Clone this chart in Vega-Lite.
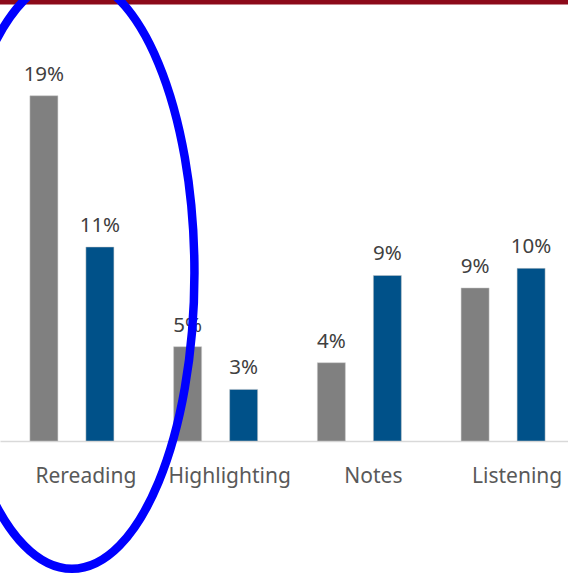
{
  "$schema": "https://vega.github.io/schema/vega-lite/v6.json",
  "width": 575,
  "height": 441,
  "autosize": {"type": "none"},
  "padding": {"left": 0, "top": 0, "right": 0, "bottom": 135},
  "background": "white",
  "config": {"view": {"stroke": null}, "font": "Noto Sans"},
  "data": {
    "values": [
      {"method": "Rereading", "series": "Series 1", "value": 0.194},
      {"method": "Rereading", "series": "Series 2", "value": 0.109},
      {"method": "Highlighting", "series": "Series 1", "value": 0.053},
      {"method": "Highlighting", "series": "Series 2", "value": 0.029},
      {"method": "Notes", "series": "Series 1", "value": 0.044},
      {"method": "Notes", "series": "Series 2", "value": 0.093},
      {"method": "Listening", "series": "Series 1", "value": 0.086},
      {"method": "Listening", "series": "Series 2", "value": 0.097}
    ]
  },
  "encoding": {
    "x": {
      "field": "method",
      "type": "nominal",
      "sort": ["Rereading", "Highlighting", "Notes", "Listening"],
      "scale": {"paddingInner": 0.4155, "paddingOuter": 0.208},
      "axis": {
        "title": null,
        "labelAngle": 0,
        "ticks": false,
        "labelFontSize": 21,
        "labelColor": "#595959",
        "labelPadding": 24,
        "labelOffset": 14,
        "domainColor": "#D9D9D9",
        "domainWidth": 1.5
      }
    },
    "y": {
      "field": "value",
      "type": "quantitative",
      "scale": {"domain": [0, 0.2478], "nice": false},
      "axis": null
    }
  },
  "layer": [
    {
      "mark": {"type": "bar", "stroke": "#C8C8C8", "strokeWidth": 0.5},
      "encoding": {
        "xOffset": {
          "field": "series",
          "sort": ["Series 1", "Series 2"],
          "scale": {"paddingInner": 0.5, "paddingOuter": 0}
        },
        "color": {
          "field": "series",
          "scale": {"domain": ["Series 1", "Series 2"], "range": ["#808080", "#005189"]},
          "legend": null
        }
      }
    },
    {
      "mark": {"type": "text", "baseline": "alphabetic", "dy": -15, "fontSize": 20.5, "color": "#404040"},
      "encoding": {
        "xOffset": {
          "field": "series",
          "sort": ["Series 1", "Series 2"],
          "scale": {"paddingInner": 0.5, "paddingOuter": 0}
        },
        "text": {"field": "value", "type": "quantitative", "format": ".0%"}
      }
    },
    {
      "data": {"values": [{"top": 0.2478}]},
      "mark": {"type": "rule", "color": "#8C0A1A", "strokeWidth": 9},
      "encoding": {"x": null, "y": {"field": "top", "type": "quantitative"}}
    },
    {
      "data": {"values": [{"method": "Rereading", "center": 0.0945}]},
      "mark": {
        "type": "point",
        "shape": "M -0.414 0 A 0.414 1 0 1 0 0.414 0 A 0.414 1 0 1 0 -0.414 0 Z",
        "size": 350464,
        "filled": false,
        "stroke": "#0000FF",
        "strokeWidth": 8.5,
        "opacity": 1
      },
      "encoding": {"y": {"field": "center", "type": "quantitative"}}
    }
  ]
}
